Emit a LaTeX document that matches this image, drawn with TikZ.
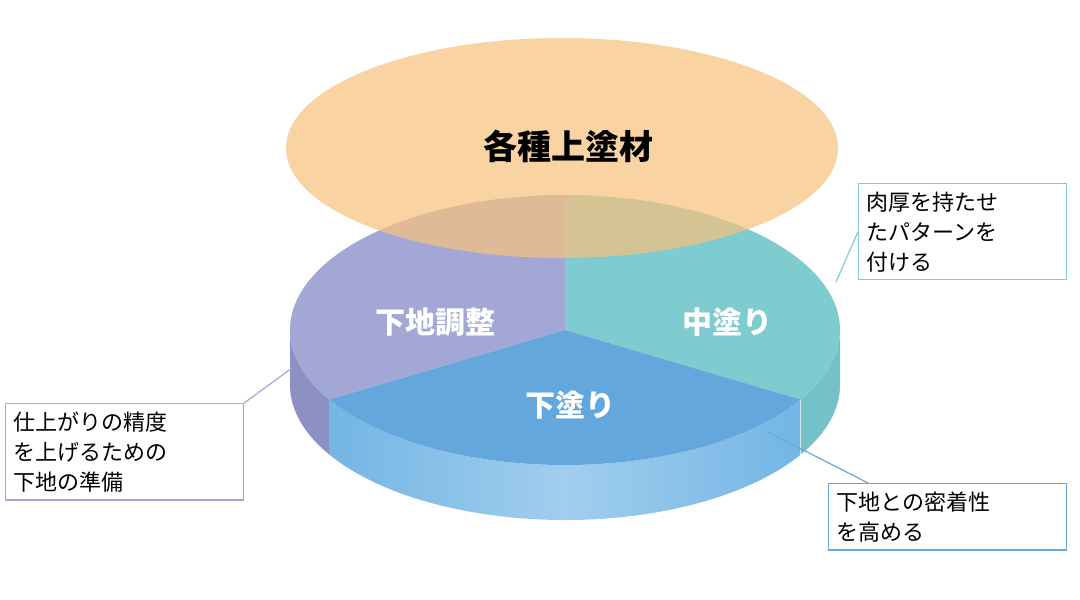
\documentclass[tikz,border=0pt]{standalone}
\usepackage{fontspec}
\usetikzlibrary{calc}
\newfontfamily\jp{Noto Sans CJK JP}
\definecolor{orng}{HTML}{F6C27E}
\definecolor{purp}{HTML}{A3A7D6}
\definecolor{purpS}{HTML}{8C90C4}
\definecolor{teal}{HTML}{7ECBD0}
\definecolor{tealS}{HTML}{74C2C8}
\definecolor{blu}{HTML}{63A7DD}
\definecolor{bluS}{HTML}{78B9E6}
\tikzset{callout/.style={draw=#1,line width=1.2pt,fill=white,inner sep=8pt,align=left,font=\jp\fontsize{22}{30}\selectfont,anchor=north west},
lbl/.style={font=\jp\bfseries\fontsize{30}{34}\selectfont,text=white}}
\begin{document}
\begin{tikzpicture}[x=1pt,y=-1pt]
\useasboundingbox (0,0) rectangle (1080,600);
\coordinate (c) at (565,330);
\def\rx{275}\def\ry{135}\def\h{55}
% sides
\fill[purpS] ($(c)+(149:275 and 135)$) arc[start angle=149,end angle=180,x radius=\rx,y radius=\ry] -- ++(0,\h) arc[start angle=180,end angle=149,x radius=\rx,y radius=\ry] -- cycle;
\fill[tealS] ($(c)+(0:275 and 135)$) arc[start angle=0,end angle=31,x radius=\rx,y radius=\ry] -- ++(0,\h) arc[start angle=31,end angle=0,x radius=\rx,y radius=\ry] -- cycle;
\shade[left color=bluS!80!blu,right color=bluS!80!blu,middle color=bluS!70!white] ($(c)+(31:275 and 135)$) arc[start angle=31,end angle=149,x radius=\rx,y radius=\ry] -- ++(0,\h) arc[start angle=149,end angle=31,x radius=\rx,y radius=\ry] -- cycle;
% top faces
\fill[purp] (c) -- ($(c)+(149:275 and 135)$) arc[start angle=149,end angle=270,x radius=\rx,y radius=\ry] -- cycle;
\fill[teal] (c) -- ($(c)+(-90:275 and 135)$) arc[start angle=-90,end angle=31,x radius=\rx,y radius=\ry] -- cycle;
\fill[blu] (c) -- ($(c)+(31:275 and 135)$) arc[start angle=31,end angle=149,x radius=\rx,y radius=\ry] -- cycle;
% top ellipse
\fill[orng,opacity=0.72] (562,148) ellipse[x radius=276,y radius=110];
\node (top) at (568,146) {\jp\bfseries\fontsize{34}{38}\selectfont 各種上塗材};
\node[lbl] (l1) at (435,322) {下地調整};
\node[lbl] (l2) at (727,322) {中塗り};
\node[lbl] (l3) at (570,405) {下塗り};
% callouts
\coordinate (p1) at (292,368);
\coordinate (p2) at (836,282);
\coordinate (p3) at (768,432);
\node[callout=purp,text width=222pt] (b1) at (5,403) {仕上がりの精度\\を上げるための\\下地の準備};
\node[callout=teal,text width=192pt] (b2) at (858,183) {肉厚を持たせ\\たパターンを\\付ける};
\node[callout=blu,text width=222pt] (b3) at (828,483) {下地との密着性\\を高める};
\draw[purp,line width=1.2pt] (p1) -- (b1.north east);
\draw[teal,line width=1.2pt] (p2) -- (b2.west);
\draw[blu,line width=1.2pt] (p3) -- ([xshift=40pt]b3.north west);
\end{tikzpicture}
\end{document}
